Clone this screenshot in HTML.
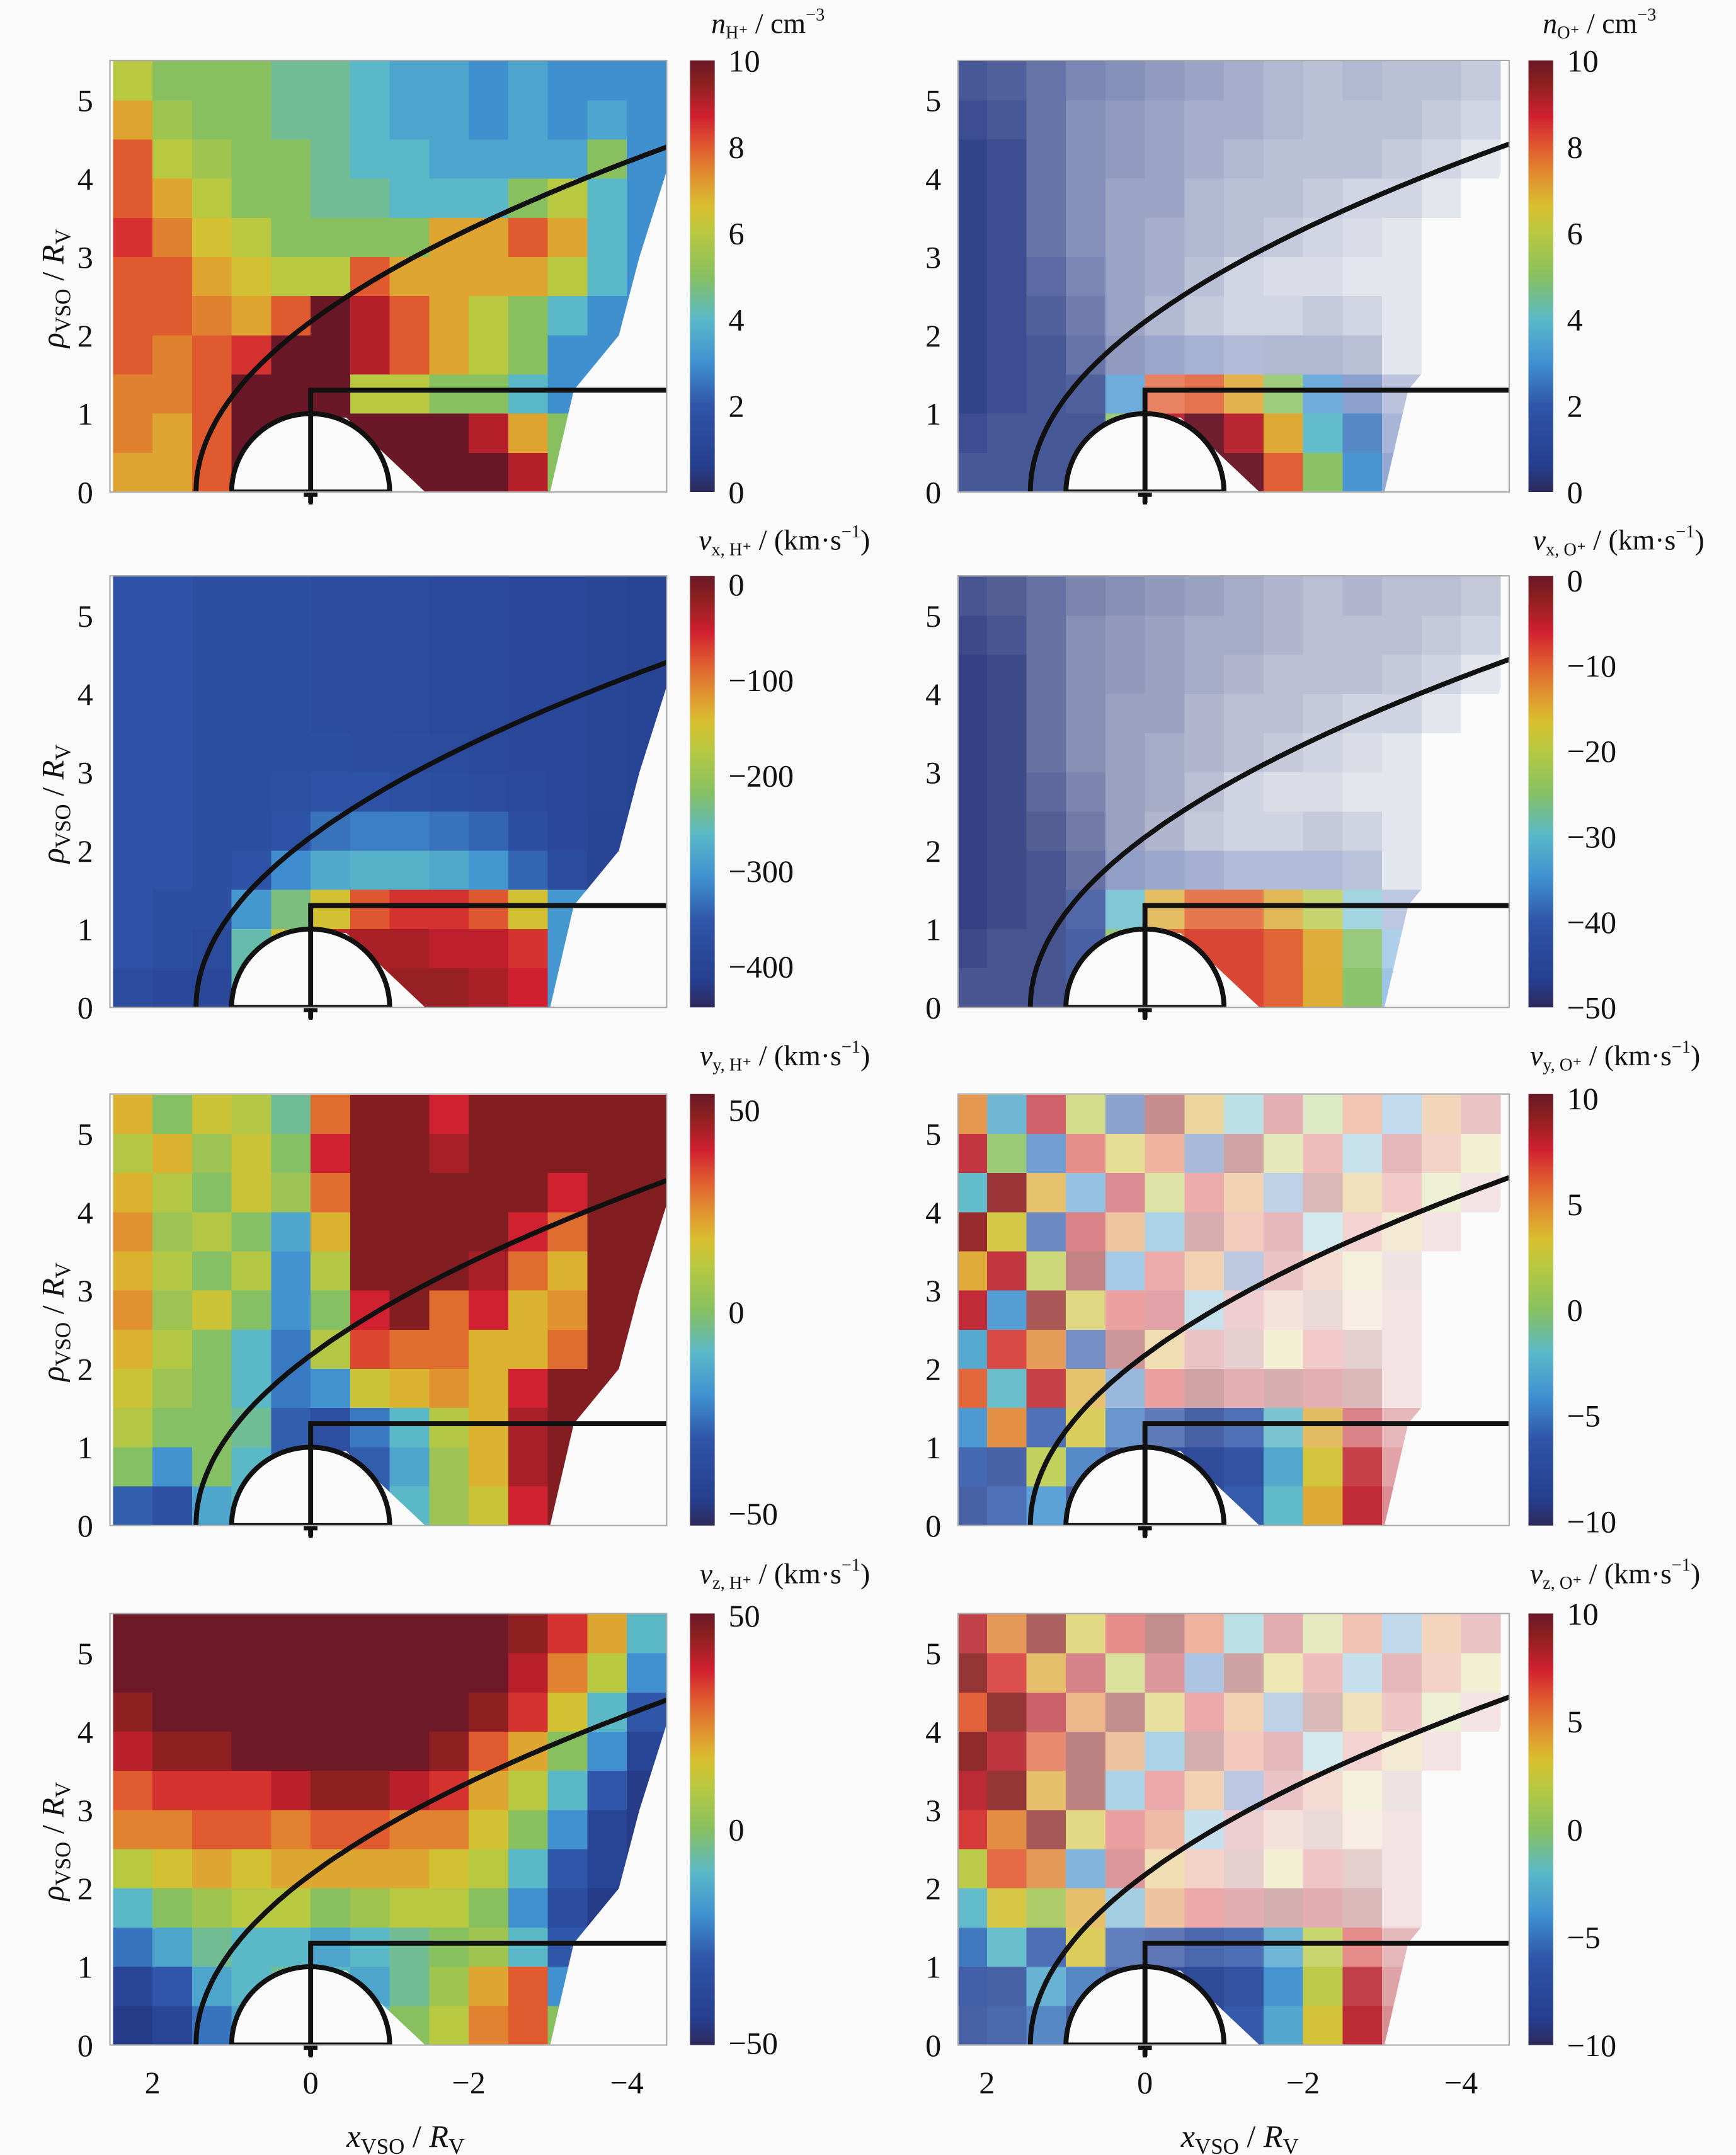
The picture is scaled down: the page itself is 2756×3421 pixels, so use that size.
<!DOCTYPE html>
<html><head><meta charset="utf-8"><title>Venus ion moments</title>
<style>
html,body{margin:0;padding:0;background:#fafafa;}
svg{display:block;}
text{font-family:"Liberation Serif",serif;fill:#111;}
</style></head>
<body>
<svg id="fig" width="2756" height="3421" viewBox="0 0 1263 1568" preserveAspectRatio="none" xmlns="http://www.w3.org/2000/svg">
<rect x="0" y="0" width="1263" height="1568" fill="#fafafa"/>
<defs>
<linearGradient id="cmap" x1="0" y1="1" x2="0" y2="0">
<stop offset="0" stop-color="#2e2a5a"/><stop offset="0.06" stop-color="#263e8e"/>
<stop offset="0.2" stop-color="#2f55a8"/><stop offset="0.3" stop-color="#4090d0"/>
<stop offset="0.4" stop-color="#5ab8c8"/><stop offset="0.5" stop-color="#88c060"/>
<stop offset="0.6" stop-color="#b8c840"/><stop offset="0.66" stop-color="#d8c030"/>
<stop offset="0.73" stop-color="#e09030"/><stop offset="0.8" stop-color="#e05a30"/>
<stop offset="0.87" stop-color="#d02030"/><stop offset="0.95" stop-color="#8a2020"/>
<stop offset="1" stop-color="#6a1828"/>
</linearGradient>
</defs>
</svg>
<script>
// ---- data grids: rows rho 5.25 -> 0.25 (step 0.5), cols x 2.25 -> -4.25 (step -0.5)
const colCenters = [2.25,1.75,1.25,0.75,0.25,-0.25,-0.75,-1.25,-1.75,-2.25,-2.75,-3.25,-3.75,-4.25];
const rowCenters = [5.25,4.75,4.25,3.75,3.25,2.75,2.25,1.75,1.25,0.75,0.25];
const xTicks = [2,0,-2,-4];
const xTickLabels = ["2","0","\u22122","\u22124"];
const yTicks = [0,1,2,3,4,5];

const nH = [
[6,5,5,5,4.5,4.5,4,3.5,3.5,3,3.5,3,3,3],
[7,5.5,5,5,4.5,4.5,4,3.5,3.5,3,3.5,3,3.5,3],
[8,6,5.5,5,5,4.5,4,4,3.5,3.5,3.5,3.5,5,3],
[8,7,6,5,5,4.5,4.5,4,4,4,5,6,4,3],
[8.5,7.5,6.5,6,5,5,5,5,7,7,8,7,4,3],
[8,8,7,6.5,6,6,8,7,7,7,7,6,4,3],
[8,8,7.5,7,8,10,9,8,7,6,5,4,3,3],
[8,7.5,8,8.5,10,10,9,8,7,6,5,3,3,3],
[7.5,7.5,8,10,10,10,6,6,5,5,4,3,3,3],
[7.5,7,8,10,10,10,10,10,10,9,7,5,3,3],
[7,7,8,10,10,10,10,10,10,10,9,5,3,3]];
const vxH = [
[-360,-360,-370,-370,-370,-375,-375,-380,-385,-385,-390,-390,-395,-400],
[-360,-360,-370,-370,-370,-375,-375,-380,-385,-385,-390,-390,-395,-400],
[-360,-360,-370,-370,-370,-375,-375,-380,-385,-385,-390,-390,-395,-400],
[-360,-360,-370,-370,-370,-375,-375,-380,-385,-385,-390,-390,-395,-400],
[-360,-360,-370,-370,-370,-370,-375,-375,-380,-385,-390,-390,-395,-400],
[-360,-360,-370,-370,-365,-360,-360,-365,-370,-380,-385,-390,-395,-400],
[-360,-360,-370,-370,-360,-330,-320,-320,-330,-340,-370,-390,-400,-400],
[-360,-360,-370,-360,-310,-280,-270,-270,-280,-300,-340,-380,-400,-400],
[-360,-370,-370,-300,-230,-150,-80,-60,-60,-80,-150,-300,-400,-400],
[-360,-370,-380,-250,-150,-40,-30,-30,-40,-40,-60,-300,-400,-400],
[-380,-390,-390,-250,-150,-40,-30,-20,-20,-30,-50,-300,-400,-400]];
const vyH = [
[20,0,15,10,-5,30,50,50,40,50,50,50,50,50],
[10,20,5,15,0,40,50,50,45,50,50,50,50,50],
[20,10,0,15,5,30,50,50,50,50,50,40,50,50],
[25,5,10,0,-15,20,50,50,50,50,40,30,50,50],
[20,10,0,10,-20,10,50,50,50,45,30,20,50,50],
[25,5,15,0,-20,0,40,50,30,40,20,25,50,50],
[20,10,0,-10,-25,10,35,30,30,20,20,30,50,50],
[15,5,0,-10,-25,-20,15,20,25,20,40,50,50,50],
[10,0,0,-5,-30,-35,-25,-10,10,20,45,50,50,50],
[0,-20,0,-10,-30,-35,-30,-15,5,20,45,50,50,50],
[-30,-35,-15,-10,-30,-35,-30,-10,5,15,40,50,50,50]];
const vzH = [
[50,50,50,50,50,50,50,50,50,50,45,35,20,-10],
[50,50,50,50,50,50,50,50,50,50,40,25,10,-20],
[45,50,50,50,50,50,50,50,50,45,35,15,-10,-30],
[40,45,45,50,50,50,50,50,45,30,20,0,-20,-40],
[30,35,35,35,40,45,45,40,35,20,10,-10,-30,-45],
[25,25,30,30,25,30,30,25,25,15,0,-20,-40,-45],
[10,15,20,15,20,20,20,20,15,10,-10,-30,-40,-45],
[-10,0,5,10,10,0,5,10,10,0,-20,-35,-45,-45],
[-25,-15,-5,-10,-10,-15,-10,-5,0,5,-10,-30,-45,-45],
[-40,-30,-15,-10,-5,-10,-15,-5,5,20,30,-20,-45,-45],
[-45,-40,-25,-15,-10,-15,-10,0,10,25,30,0,-45,-45]];
const nO = [
[.5,.5,.5,.5,.5,.5,.5,.5,.5,.5,.5,.5,.5,.5],
[.5,.5,.5,.5,.5,.5,.5,.5,.5,.5,.5,.5,.5,.5],
[.5,.5,.5,.5,.5,.5,.5,.5,.5,.5,.5,.5,.5,.5],
[.5,.5,.5,.5,.5,.5,.5,.5,.5,.5,.5,.5,.5,.5],
[.5,.5,.5,.5,.5,.5,.5,.5,.5,.5,.5,.5,.5,.5],
[.5,.5,.5,.5,.5,.5,.5,.5,.5,.5,.5,.5,.5,.5],
[.5,.5,.5,.5,.5,.5,.5,.5,.5,.5,.5,.5,.5,.5],
[.5,.5,.5,.5,.5,1,1,1,.5,.5,.5,.5,.5,.5],
[.5,.5,.5,.5,3,8,8,7,5,3,2,1,1,1],
[.5,.5,.5,.5,5,9,10,9,7,4,2.5,1.5,1,1],
[.5,.5,.5,.5,5,9,10,10,8,5,3,2,1,1]];
const vxO = [
[-48,-48,-48,-48,-48,-48,-48,-48,-48,-48,-48,-48,-48,-48],
[-48,-48,-48,-48,-48,-48,-48,-48,-48,-48,-48,-48,-48,-48],
[-48,-48,-48,-48,-48,-48,-48,-48,-48,-48,-48,-48,-48,-48],
[-48,-48,-48,-48,-48,-48,-48,-48,-48,-48,-48,-48,-48,-48],
[-48,-48,-48,-48,-48,-48,-48,-48,-48,-48,-48,-48,-48,-48],
[-48,-48,-48,-48,-48,-48,-48,-48,-48,-48,-48,-48,-48,-48],
[-48,-48,-48,-48,-48,-48,-48,-48,-48,-48,-48,-48,-48,-48],
[-48,-48,-48,-48,-46,-45,-45,-45,-45,-45,-45,-48,-48,-48],
[-48,-48,-48,-45,-30,-15,-10,-10,-15,-20,-30,-40,-45,-45],
[-48,-48,-48,-45,-25,-10,-8,-8,-10,-15,-25,-35,-40,-40],
[-48,-48,-48,-45,-25,-10,-8,-8,-10,-15,-25,-35,-40,-40]];
const vyO = [
[5,-3,8,2,-6,9,4,-2,8,1,6,-4,5,8],
[8,0,-5,7,3,6,-6,9,2,7,-3,8,6,3],
[-2,9,4,-4,8,2,7,5,-5,9,4,7,2,8],
[9,3,-6,8,5,-3,9,6,8,-2,7,4,8,8],
[4,8,2,9,-4,7,5,-6,8,6,3,9,8,8],
[8,-4,9,3,7,8,-3,8,6,9,5,8,8,8],
[-3,7,5,-6,9,4,8,9,3,7,9,8,8,8],
[6,-2,8,4,-5,7,9,8,9,8,9,8,8,8],
[-4,5,-6,3,-5,-7,-8,-6,-2,4,8,8,8,8],
[-6,-8,2,-5,-7,-8,-8,-7,-3,3,8,8,8,8],
[-8,-6,-4,-8,-7,-8,-8,-6,-2,4,8,8,8,8]];
const vzO = [
[8,5,9,3,7,9,6,-2,8,2,6,-4,5,8],
[9,7,4,8,2,8,-5,9,3,7,-3,8,6,3],
[6,9,8,5,9,3,7,5,-5,9,4,7,2,8],
[9,8,6,9,5,-3,9,6,8,-2,7,4,8,8],
[8,9,4,9,-3,7,5,-6,8,6,3,9,8,8],
[7,5,9,3,7,6,-3,8,6,9,5,8,8,8],
[2,6,5,-4,8,4,6,9,3,7,9,8,8,8],
[-2,3,1,4,-3,5,7,8,9,8,9,8,8,8],
[-5,-2,-6,3,-6,-7,-7,-6,-3,2,7,8,8,8],
[-7,-8,-3,-5,-7,-8,-8,-7,-4,2,8,8,8,8],
[-8,-7,-5,-8,-7,-8,-8,-6,-3,3,8,8,8,8]];
const occO = [
[.85,.8,.7,.6,.55,.5,.45,.4,.35,.3,.35,.3,.3,.25],
[.9,.85,.7,.55,.5,.45,.4,.4,.35,.3,.3,.3,.25,.2],
[.95,.9,.7,.55,.5,.45,.4,.35,.3,.3,.3,.25,.2,.1],
[.95,.9,.7,.55,.45,.45,.35,.3,.3,.25,.2,.2,.1,0],
[.95,.9,.7,.55,.45,.4,.35,.3,.25,.2,.15,.1,0,0],
[.95,.9,.75,.6,.45,.4,.3,.2,.15,.15,.1,.1,0,0],
[.95,.9,.8,.65,.45,.35,.25,.2,.2,.25,.2,.1,0,0],
[.95,.9,.85,.7,.5,.45,.4,.35,.35,.35,.3,.1,0,0],
[.95,.9,.85,.8,.75,.75,.85,.85,.8,.75,.55,.3,0,0],
[.9,.85,.85,.85,.85,.95,.97,.97,.97,.95,.85,.4,0,0],
[.85,.85,.85,.85,.85,.95,.97,.97,.97,.97,.95,.5,0,0]];

const cbTicks1 = [0,2,4,6,8,10];
const cbTicksVxH = [0,-100,-200,-300,-400];
const cbTicksVxO = [0,-10,-20,-30,-40,-50];
const cbTicksVH = [50,0,-50];
const cbTicksVO = [10,5,0,-5,-10];

// ---- layout / config (not data)
const NS = "http://www.w3.org/2000/svg";
const svg = document.getElementById("fig");
const stops = [[0,[46,42,90]],[0.06,[38,62,142]],[0.2,[47,85,168]],[0.3,[64,144,208]],[0.4,[90,184,200]],[0.5,[136,192,96]],[0.6,[184,200,64]],[0.66,[216,192,48]],[0.73,[224,144,48]],[0.8,[224,90,48]],[0.87,[208,32,48]],[0.95,[138,32,32]],[1,[106,24,40]]];
function cmap(t){
  t=Math.max(0,Math.min(1,t));
  for(let i=1;i<stops.length;i++){
    if(t<=stops[i][0]){
      const a=stops[i-1],b=stops[i],f=(t-a[0])/(b[0]-a[0]);
      const c=a[1].map((v,k)=>Math.round(v+(b[1][k]-v)*f));
      return "rgb("+c.join(",")+")";
    }
  }
  return "rgb(106,24,40)";
}
function mk(tag,attrs,parent){
  const e=document.createElementNS(NS,tag);
  for(const k in attrs) e.setAttribute(k,attrs[k]);
  (parent||svg).appendChild(e);
  return e;
}
const panels = [
 {grid:nH, occ:null, x0:226, base:358, vmin:0, vmax:10, ticks:cbTicks1, cbx:502, title:["n","H⁺"," / cm","−3"], tx:600, ty:24, name:"nH"},
 {grid:nO, occ:occO, x0:833, base:358, vmin:0, vmax:10, ticks:cbTicks1, cbx:1112, title:["n","O⁺"," / cm","−3"], tx:1205, ty:24, name:"nO"},
 {grid:vxH, occ:null, x0:226, base:733, vmin:-443, vmax:9, ticks:cbTicksVxH, cbx:502, title:["v","x, H⁺"," / (km·s","−1",")"], tx:633, ty:400, name:"vxH"},
 {grid:vxO, occ:occO, x0:833, base:733, vmin:-50, vmax:0.5, ticks:cbTicksVxO, cbx:1112, title:["v","x, O⁺"," /  (km·s","−1",")"], tx:1240, ty:400, name:"vxO"},
 {grid:vyH, occ:null, x0:226, base:1110, vmin:-53, vmax:54, ticks:cbTicksVH, cbx:502, title:["v","y, H⁺"," / (km·s","−1",")"], tx:633, ty:775, name:"vyH"},
 {grid:vyO, occ:occO, x0:833, base:1110, vmin:-10.2, vmax:10.2, ticks:cbTicksVO, cbx:1112, title:["v","y, O⁺"," / (km·s","−1",")"], tx:1237, ty:775, name:"vyO"},
 {grid:vzH, occ:null, x0:226, base:1488, vmin:-50.5, vmax:50.5, ticks:cbTicksVH, cbx:502, title:["v","z, H⁺"," / (km·s","−1",")"], tx:633, ty:1152, name:"vzH"},
 {grid:vzO, occ:occO, x0:833, base:1488, vmin:-10, vmax:10, ticks:cbTicksVO, cbx:1112, title:["v","z, O⁺"," / (km·s","−1",")"], tx:1237, ty:1152, name:"vzO"}
];
const S=57.5, SY=57, H=314;
panels.forEach((p,pi)=>{
  const X=v=>p.x0-S*v, Y=r=>p.base-SY*r;
  const left = p.x0<500 ? 80 : 697, right = p.x0<500 ? 485 : 1098;
  const g=mk("g",{});
  
  
  const cid="clip"+pi;
  const cp=mk("clipPath",{id:cid},g);
  const poly=[[2.7,0],[2.7,5.6],[-4.7,5.6],[-4.6,4.4],[-4.16,3],[-3.9,2],[-3.33,1.3],[-3.03,0]];
  mk("polygon",{points:poly.map(q=>X(q[0])+","+Y(q[1])).join(" ")},cp);
  const cp2=mk("clipPath",{id:cid+"f"},g);
  mk("rect",{x:left,y:p.base-H,width:right-left,height:H},cp2);
  const gf=mk("g",{"clip-path":"url(#"+cid+"f)"},g);
  const cells=mk("g",{"clip-path":"url(#"+cid+")"},gf);
  
  
  const ov = p.occ ? 0 : 0.6;
  rowCenters.forEach((r,ri)=>{
    colCenters.forEach((c,ci)=>{
      const v=p.grid[ri][ci];
      const o=p.occ?p.occ[ri][ci]:1;
      if(v===null||o<=0) return;
      const rc=mk("rect",{x:X(c+0.25),y:Y(r+0.25),width:S*0.5+ov,height:SY*0.5+ov,fill:cmap((v-p.vmin)/(p.vmax-p.vmin)),"fill-opacity":o,"shape-rendering":"crispEdges"},cells);
      
      
    });
  });
  const wg=mk("polygon",{points:[[-1,0],[-1.45,0],[-0.45,0.95],[-0.3,0.95]].map(q=>X(q[0])+","+Y(q[1])).join(" "),fill:"#fafafa"},gf);
  
  
  let d="";
  for(let r=0;r<=4.45;r+=0.05){const x=1.45-0.307*r*r; d+=(r===0?"M":"L")+X(x).toFixed(1)+","+Y(r).toFixed(1);}
  const bs=mk("path",{d:d,fill:"none",stroke:"#111","stroke-width":3.6},gf);
  
  
  const pl=mk("path",{d:"M"+X(1)+","+Y(0)+" A"+S+","+SY+" 0 0 1 "+X(-1)+","+Y(0)+" Z",fill:"#fafafa",stroke:"#111","stroke-width":3.6},gf);
  
  
  const hl=mk("polyline",{points:X(0)+","+(Y(0)+8)+" "+X(0)+","+Y(1.3)+" "+right+","+Y(1.3),fill:"none",stroke:"#111","stroke-width":3.6},g);
  
  
  const mkr=mk("path",{d:"M"+(X(0)-5)+","+(Y(0)+2)+"h10M"+X(0)+","+(Y(0)-3)+"v12",stroke:"#111","stroke-width":3},g);
  
  
  const fr=mk("rect",{x:left,y:p.base-H,width:right-left,height:H,fill:"none",stroke:"#aaa","stroke-width":1},g);
  
  
  yTicks.forEach(t=>{
    const tl=mk("text",{x:left-18,y:Y(t)+8,"text-anchor":"middle","font-size":23},g);
    tl.textContent=t;
    
    
  });
  if(p.x0<500){
    const yt=mk("text",{x:0,y:0,transform:"translate(46,"+(Y(2.6))+") rotate(-90)","text-anchor":"middle","font-size":23},g);
    yt.innerHTML='<tspan font-style="italic">ρ</tspan><tspan font-size="16" dy="5">VSO</tspan><tspan dy="-5"> / </tspan><tspan font-style="italic">R</tspan><tspan font-size="16" dy="5">V</tspan>';
    
    
  }
  if(pi>=6){
    xTicks.forEach((t,i)=>{
      const xl=mk("text",{x:X(t),y:1523,"text-anchor":"middle","font-size":23},g);
      xl.textContent=xTickLabels[i];
      
      
    });
    const xt=mk("text",{x:X(-1.2),y:1562,"text-anchor":"middle","font-size":23},g);
    xt.innerHTML='<tspan font-style="italic">x</tspan><tspan font-size="16" dy="5">VSO</tspan><tspan dy="-5"> / </tspan><tspan font-style="italic">R</tspan><tspan font-size="16" dy="5">V</tspan>';
    
    
  }
  const cb=mk("rect",{x:p.cbx,y:p.base-H,width:18,height:H,fill:"url(#cmap)"},g);
  
  
  p.ticks.forEach(t=>{
    const yy=p.base-H*(t-p.vmin)/(p.vmax-p.vmin);
    const ct=mk("text",{x:p.cbx+28,y:yy+8,"font-size":23},g);
    ct.textContent=String(t).replace("-","\u2212");
    
    
  });
  const tt=mk("text",{x:p.tx,y:p.ty,"text-anchor":"end","font-size":21},g);
  let h='<tspan font-style="italic">'+p.title[0]+'</tspan><tspan font-size="13" dy="4">'+p.title[1]+'</tspan><tspan dy="-4">'+p.title[2]+'</tspan><tspan font-size="13" dy="-9">'+p.title[3]+'</tspan>';
  if(p.title[4]) h+='<tspan dy="9">'+p.title[4]+'</tspan>';
  tt.innerHTML=h;
  
  
});
</script>
</body></html>
